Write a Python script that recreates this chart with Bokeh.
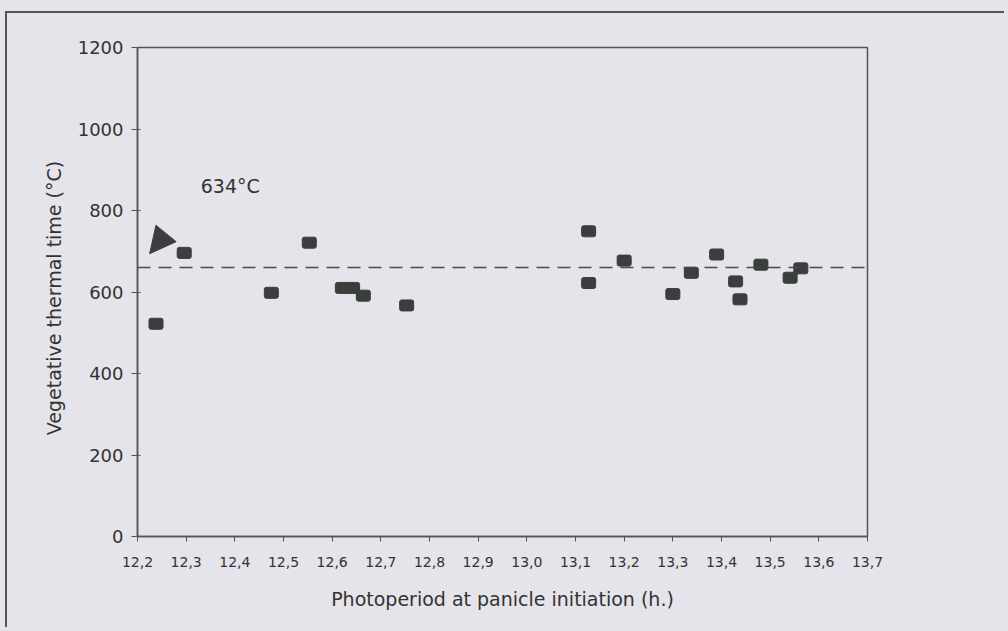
from bokeh.plotting import figure
from bokeh.models import (Range1d, FixedTicker, Span, Label, Arrow, NormalHead,
                          GlobalInlineStyleSheet)
from bokeh.embed import file_html
from bokeh.resources import INLINE

# ---- data ----
photoperiod = [12.238, 12.296, 12.475, 12.553, 12.621, 12.642, 12.664, 12.753,
               13.127, 13.127, 13.200, 13.300, 13.338, 13.390, 13.429, 13.438,
               13.481, 13.541, 13.563]
thermal_time = [522, 696, 598, 721, 610, 610, 591, 567,
                749, 622, 677, 595, 647, 692, 626, 582,
                667, 635, 658]
mean_value = 660
mean_label = "634°C"

x_ticks = [12.2, 12.3, 12.4, 12.5, 12.6, 12.7, 12.8, 12.9, 13.0,
           13.1, 13.2, 13.3, 13.4, 13.5, 13.6, 13.7]
x_tick_labels = ["12,2", "12,3", "12,4", "12,5", "12,6", "12,7", "12,8", "12,9",
                 "13,0", "13,1", "13,2", "13,3", "13,4", "13,5", "13,6", "13,7"]
y_ticks = [0, 200, 400, 600, 800, 1000, 1200]

BG = "#e4e4ea"
INK = "#3a3e3c"
TXT = "#333333"
FONT = "DejaVu Sans"

p = figure(width=999, height=616, output_backend="svg", toolbar_location=None,
           x_range=Range1d(12.2, 13.7), y_range=Range1d(0, 1200),
           min_border_left=130, min_border_right=139,
           min_border_top=34, min_border_bottom=93)
p.background_fill_color = BG
p.border_fill_color = BG
p.outline_line_color = "#555555"
p.outline_line_width = 1.5
p.grid.visible = False

p.xaxis.ticker = FixedTicker(ticks=x_ticks)
p.xaxis.major_label_overrides = {t: l for t, l in zip(x_ticks, x_tick_labels)}
p.yaxis.ticker = FixedTicker(ticks=y_ticks)
p.xaxis.minor_tick_line_color = None
p.yaxis.minor_tick_line_color = None
for ax in (p.xaxis, p.yaxis):
    ax.axis_line_color = "#555555"
    ax.axis_line_width = 1.5
    ax.major_tick_line_color = "#555555"
    ax.major_label_text_font = FONT
    ax.major_label_text_color = TXT
    ax.axis_label_text_font = FONT
    ax.axis_label_text_color = TXT
    ax.axis_label_text_font_style = "normal"

p.xaxis.major_tick_in = 0
p.xaxis.major_tick_out = 5
p.xaxis.major_label_text_font_size = "14px"
p.xaxis.major_label_standoff = 15
p.xaxis.axis_label = "Photoperiod at panicle initiation (h.)"
p.xaxis.axis_label_text_font_size = "19px"
p.xaxis.axis_label_standoff = 18

p.yaxis.major_tick_in = 3
p.yaxis.major_tick_out = 6
p.yaxis.major_label_text_font_size = "18px"
p.yaxis.major_label_standoff = 8
p.yaxis.axis_label = "Vegetative  thermal  time (°C)"
p.yaxis.axis_label_text_font_size = "19px"
p.yaxis.axis_label_standoff = 10

# mean (dashed) line
p.add_layout(Span(location=mean_value, dimension="width", line_color="#4a4a4a",
                  line_width=1.5, line_dash="13 8"))

# data points
p.rect(photoperiod, thermal_time, width=14, height=11, width_units="screen",
       height_units="screen", fill_color=INK, line_color=INK, line_width=1,
       border_radius=2)

# annotation: label and arrow head pointing at the line
p.add_layout(Label(x=12.33, y=832, text=mean_label, text_font=FONT,
                   text_font_size="19px", text_color=TXT))
p.add_layout(Arrow(x_start=12.263, y_start=750, x_end=12.225, y_end=694,
                   line_alpha=0,
                   end=NormalHead(size=26, fill_color=INK, line_color=INK)))

# page background and outer frame of the scanned figure
p.stylesheets = [GlobalInlineStyleSheet(css=f"body {{ background: {BG}; overflow: hidden; }}")]
p.styles = {"border-left": "2px solid #555555", "border-top": "2px solid #555555",
            "margin-left": "5px", "margin-top": "11px"}

open("out.html", "w").write(file_html(p, INLINE))
